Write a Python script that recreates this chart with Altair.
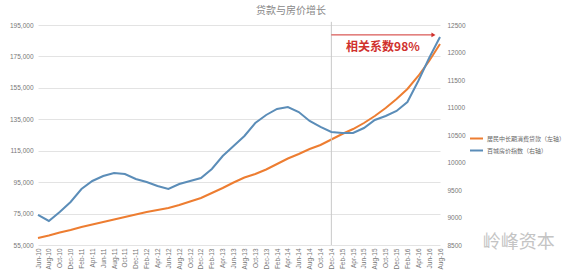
import json
import altair as alt
import pandas as pd

# ---------------- data ----------------
month_labels = ["Jun-10", "Aug-10", "Oct-10", "Dec-10", "Feb-11", "Apr-11", "Jun-11", "Aug-11",
                "Oct-11", "Dec-11", "Feb-12", "Apr-12", "Jun-12", "Aug-12", "Oct-12", "Dec-12",
                "Feb-13", "Apr-13", "Jun-13", "Aug-13", "Oct-13", "Dec-13", "Feb-14", "Apr-14",
                "Jun-14", "Aug-14", "Oct-14", "Dec-14", "Feb-15", "Apr-15", "Jun-15", "Aug-15",
                "Oct-15", "Dec-15", "Feb-16", "Apr-16", "Jun-16", "Aug-16"]

loan_values = [59450, 61040, 62950, 64540, 66450, 68040, 69630, 71220,
               72810, 74400, 75990, 77270, 78540, 80450, 82680, 84900,
               88090, 91270, 94770, 97950, 100180, 103040, 106540, 110040,
               112900, 116090, 118630, 122130, 125630, 128810, 132630, 137090,
               142180, 147910, 154270, 162540, 172090, 182910]

price_values = [9046, 8937, 9100, 9282, 9518, 9664, 9755, 9809,
                9791, 9700, 9646, 9573, 9518, 9609, 9664, 9718,
                9882, 10118, 10300, 10482, 10718, 10864, 10973, 11009,
                10918, 10755, 10646, 10555, 10537, 10537, 10627, 10773,
                10846, 10937, 11100, 11482, 11900, 12282]

loan_name = "居民中长期消费贷款（左轴）"
price_name = "百城房价指数（右轴）"
title_text = "贷款与房价增长"
note_text = "相关系数98%"
watermark_text = "岭峰资本"

left_ticks = [55000, 75000, 95000, 115000, 135000, 155000, 175000, 195000]
right_ticks = [8500, 9000, 9500, 10000, 10500, 11000, 11500, 12000, 12500]

# annotation anchors (month index, left-axis value)
marker_month = 54      # Dec-14
arrow_end_month = 72.8
arrow_level = 188700
note_month = 63.5
note_level = 181000
wm_month = 88.5
wm_level = 56500

# ---------------- tables ----------------
m_index = [2 * i for i in range(len(month_labels))]
df = pd.DataFrame({"m": m_index, "label": month_labels,
                   "loan": loan_values, "price": price_values})

label_expr = json.dumps(month_labels) + "[round(datum.value / 2)]"

x_scale = alt.Scale(domain=[0, 74], nice=False, zero=False)
x_axis = alt.Axis(values=m_index, labelExpr=label_expr, labelAngle=270,
                  labelFontSize=6.5, labelColor="#777777", labelPadding=3,
                  domain=False, ticks=False, grid=False, title=None,
                  labelFont="Liberation Sans", labelOverlap=False)

left_scale = alt.Scale(domain=[55000, 195000], nice=False, zero=False)
left_axis = alt.Axis(values=left_ticks, labelExpr="format(datum.value, ',')",
                     orient="left", title=None,
                     domain=False, ticks=False, grid=True, gridColor="#e3e3e3",
                     labelFontSize=6.5, labelColor="#777777", labelPadding=5,
                     labelFont="Liberation Sans")
right_scale = alt.Scale(domain=[8500, 12500], nice=False, zero=False)
right_axis = alt.Axis(values=right_ticks, labelExpr="format(datum.value, 'd')",
                      orient="right", title=None,
                      domain=False, ticks=False, grid=False,
                      labelFontSize=6.5, labelColor="#777777", labelPadding=7,
                      labelFont="Liberation Sans")


def X(field):
    return alt.X(field, scale=x_scale, axis=x_axis)


def YL(field):
    return alt.Y(field, scale=left_scale, axis=left_axis)


color_scale = alt.Scale(domain=[loan_name, price_name], range=["#ED7D31", "#5B8DB8"])
legend = alt.Legend(title=None, orient="none", legendX=431, legendY=106,
                    symbolType="stroke", symbolSize=169, symbolStrokeWidth=2,
                    labelFontSize=6, labelColor="#666666", labelFont="Noto Sans CJK SC",
                    rowPadding=0, labelOffset=3)

loan_line = alt.Chart(df).transform_calculate(
    series=json.dumps(loan_name)
).mark_line(strokeWidth=2).encode(
    x=X("m:Q"),
    y=YL("loan:Q"),
    color=alt.Color("series:N", scale=color_scale, legend=legend),
)

ann_df = pd.DataFrame({
    "m": [marker_month], "m2": [arrow_end_month],
    "top": [197000], "bottom": [55000],
    "lvl": [arrow_level], "nm": [note_month], "nl": [note_level],
    "note": [note_text], "wm": [wm_month], "wl": [wm_level], "wtext": [watermark_text],
})
base_ann = alt.Chart(ann_df)

vrule = base_ann.mark_rule(color="#c8c8c8", strokeWidth=1, clip=False).encode(
    x=X("m:Q"), y=YL("top:Q"), y2="bottom:Q")
arrow_line = base_ann.mark_rule(color="#d0312d", strokeWidth=1, clip=False).encode(
    x=X("m:Q"), x2="m2:Q", y=YL("lvl:Q"))
arrow_head = base_ann.mark_point(shape="triangle-right", filled=True, size=22,
                                 color="#d0312d", opacity=1, clip=False).encode(
    x=X("m2:Q"), y=YL("lvl:Q"))
note = base_ann.mark_text(color="#d0312d", fontSize=12, fontWeight="bold",
                          font="Noto Sans CJK SC", align="center", baseline="middle",
                          clip=False).encode(
    x=X("nm:Q"), y=YL("nl:Q"), text="note:N")
watermark = base_ann.mark_text(color="#c4c4c4", fontSize=18, font="Noto Sans CJK SC",
                               align="center", baseline="middle", clip=False).encode(
    x=X("wm:Q"), y=YL("wl:Q"), text="wtext:N")

price_line = alt.Chart(df).transform_calculate(
    series=json.dumps(price_name)
).mark_line(strokeWidth=2).encode(
    x=X("m:Q"),
    y=alt.Y("price:Q", scale=right_scale, axis=right_axis),
    color=alt.Color("series:N", scale=color_scale, legend=legend),
)

left_group = alt.layer(loan_line, vrule, arrow_line, arrow_head, note, watermark)

chart = alt.layer(left_group, price_line).resolve_scale(y="independent").properties(
    width=402, height=220,
    autosize=alt.AutoSizeParams(type="none"),
    padding={"left": 38, "top": 25, "right": 136, "bottom": 29},
    title=alt.TitleParams(title_text, fontSize=10, font="Noto Sans CJK SC",
                          fontWeight="normal", color="#888888", anchor="middle",
                          dx=52, offset=5),
).configure_view(stroke=None)

chart.save("out.html", embed_options={"renderer": "svg", "actions": False})
